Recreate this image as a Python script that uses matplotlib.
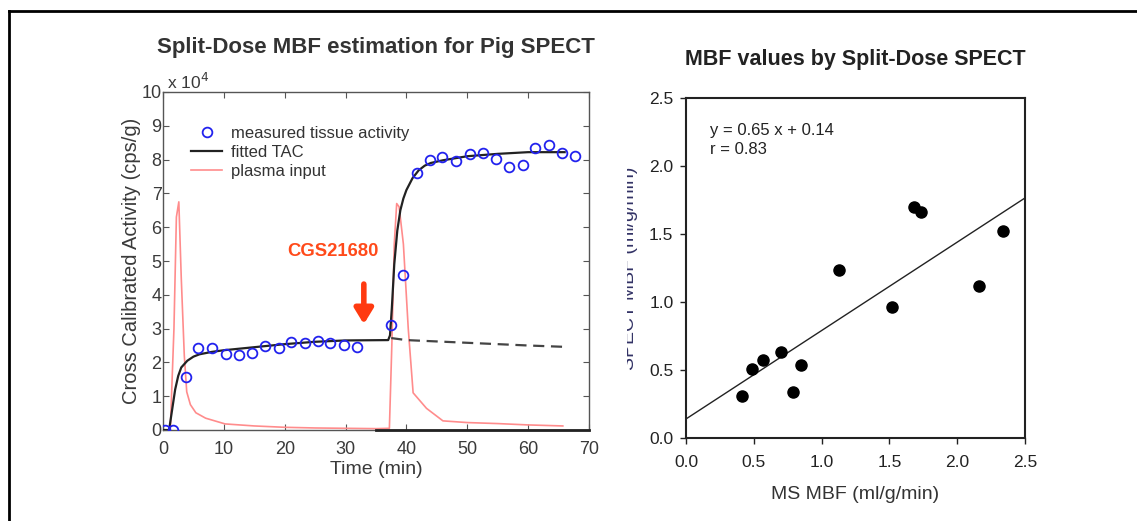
import matplotlib
matplotlib.use("Agg")
import matplotlib.pyplot as plt
from matplotlib.lines import Line2D
from matplotlib.transforms import Bbox

plt.rcParams['font.family'] = ['Liberation Sans', 'DejaVu Sans']

# ---------------- Left panel data (activity in units of 1e4 cps/g) ----------------
meas_t = [0.3, 1.6, 3.8, 5.8, 8.1, 10.3, 12.5, 14.6, 16.8, 19.0, 21.1, 23.3, 25.5,
          27.5, 29.8, 31.9, 37.5, 39.5, 41.8, 43.8, 45.9, 48.1, 50.4, 52.5, 54.7,
          56.9, 59.1, 61.1, 63.5, 65.5, 67.7]
meas_v = [0.0, 0.0, 1.58, 2.42, 2.42, 2.25, 2.23, 2.27, 2.50, 2.44, 2.59, 2.58, 2.64,
          2.56, 2.51, 2.47, 3.10, 4.60, 7.59, 8.00, 8.09, 7.97, 8.16, 8.19, 8.02,
          7.79, 7.84, 8.33, 8.43, 8.19, 8.10]

fit_t = [0, 1.0, 1.5, 2.0, 2.5, 3.0, 4.0, 5.0, 6.0, 8.0, 10, 15, 20, 25, 30, 37.0,
         37.3, 37.6, 38.0, 38.5, 39.0, 39.5, 40.0, 41.0, 42.0, 43.0, 44.0, 46.0,
         48.0, 50.0, 55.0, 60.0, 66.0]
fit_v = [0, 0.0, 0.6, 1.2, 1.6, 1.85, 2.05, 2.17, 2.24, 2.31, 2.36, 2.45, 2.54, 2.61,
         2.65, 2.66, 2.80, 3.60, 4.90, 5.90, 6.50, 6.85, 7.10, 7.45, 7.68, 7.82, 7.90,
         7.98, 8.04, 8.10, 8.17, 8.22, 8.22]

dash_t = [37.5, 40, 45, 50, 55, 60, 66]
dash_v = [2.72, 2.66, 2.62, 2.58, 2.54, 2.50, 2.46]

base_t = [35, 70]
base_v = [0, 0]

plasma_t = [0, 1.2, 1.8, 2.2, 2.6, 3.0, 3.5, 3.9, 4.5, 5.4, 7.0, 10.2, 15, 20, 25, 30,
            35, 37.2, 37.6, 38.0, 38.4, 38.8, 39.5, 40.3, 41.1, 43.3, 46.0, 50, 55, 60, 65.7]
plasma_v = [0, 0.0, 3.0, 6.3, 6.75, 4.5, 2.2, 1.13, 0.75, 0.51, 0.35, 0.18, 0.12, 0.08,
            0.06, 0.05, 0.04, 0.05, 2.5, 5.5, 6.7, 6.6, 5.5, 3.0, 1.1, 0.64, 0.27, 0.22,
            0.19, 0.15, 0.12]

arrow_t = 33.0
arrow_from = 4.4
arrow_to = 3.05

# ---------------- Right panel data ----------------
ms_mbf = [0.41, 0.49, 0.57, 0.70, 0.85, 0.79, 1.13, 1.52, 2.16, 2.34, 1.68, 1.73]
spect_mbf = [0.31, 0.51, 0.57, 0.63, 0.54, 0.34, 1.235, 0.96, 1.12, 1.52, 1.70, 1.66]
slope = 0.65
intercept = 0.14
r_value = 0.83

fig = plt.figure(figsize=(11.37, 5.21), dpi=100)

# outer frame (top and left edges)
fig.add_artist(Line2D([9/1137, 1.0], [1 - 11/521, 1 - 11/521], color='black', lw=2,
                      transform=fig.transFigure))
fig.add_artist(Line2D([9/1137, 9/1137], [0.0, 1 - 11/521], color='black', lw=2,
                      transform=fig.transFigure))

# ---------------- Left panel ----------------
ax1 = fig.add_axes([163/1137, 1 - 430/521, 426/1137, 338/521])
gray = '#3a3a3a'
ax1.plot(plasma_t, plasma_v, color='#ff8c8c', lw=1.2, label='plasma input', zorder=2)
ax1.plot(fit_t, fit_v, color='#222222', lw=1.6, label='fitted TAC', zorder=3)
ax1.plot(dash_t, dash_v, color='#444444', lw=1.6, ls=(0, (5, 3)), zorder=3)
ax1.plot(base_t, base_v, color='#222222', lw=2.0, zorder=3, clip_on=False)
ax1.plot(meas_t, meas_v, ls='none', marker='o', ms=7, mfc='none', mec='#2222ee',
         mew=1.3, label='measured tissue activity', zorder=4)
ax1.set_xlim(0, 70)
ax1.set_ylim(0, 10)
ax1.set_xticks(range(0, 71, 10))
ax1.set_yticks(range(0, 11))
ax1.tick_params(direction='in', top=True, right=True, length=4, width=0.8,
                labelsize=13, colors='#555555', labelcolor=gray)
ax1.tick_params(axis='x', pad=8)
ax1.tick_params(axis='y', pad=1)
for s in ax1.spines.values():
    s.set_color('#555555')
    s.set_linewidth(1.0)
ax1.set_xlabel('Time (min)', fontsize=14, color=gray, labelpad=2)
ax1.set_ylabel('Cross Calibrated Activity (cps/g)', fontsize=14.5, color=gray, labelpad=0)
ax1.set_title('Split-Dose MBF estimation for Pig SPECT', fontsize=16,
              fontweight='bold', color='#333333', pad=28)
ax1.text(0.01, 1.0, r'x 10$^4$', transform=ax1.transAxes, fontsize=12.5, color=gray,
         va='bottom', ha='left')
h, l = ax1.get_legend_handles_labels()
order = [2, 1, 0]
ax1.legend([h[i] for i in order], [l[i] for i in order], loc='upper left',
           bbox_to_anchor=(0.03, 0.945), frameon=False, fontsize=12, handlelength=1.9,
           handletextpad=0.5, labelspacing=0.25, labelcolor='#333333')
ax1.annotate('', xy=(arrow_t, arrow_to), xytext=(arrow_t, arrow_from),
             arrowprops=dict(arrowstyle='-|>,head_width=0.55,head_length=0.9',
                             color='#ff3a10', lw=4))
ax1.text(27.9, 5.27, 'CGS21680', color='#ff4a1a', fontsize=13.3, fontweight='bold',
         ha='center', va='center')

# ---------------- Right panel ----------------
ax2 = fig.add_axes([686/1137, 1 - 438/521, 339/1137, 340/521])
ax2.plot(ms_mbf, spect_mbf, ls='none', marker='o', ms=8, color='black', zorder=3)
ax2.plot([0, 2.5], [intercept, intercept + slope * 2.5], color='#222222', lw=1.0)
ax2.set_xlim(0, 2.5)
ax2.set_ylim(0, 2.5)
ticks = [0, 0.5, 1.0, 1.5, 2.0, 2.5]
ax2.set_xticks(ticks)
ax2.set_yticks(ticks)
ax2.set_xticklabels([f'{t:.1f}' for t in ticks])
ax2.set_yticklabels([f'{t:.1f}' for t in ticks])
ax2.tick_params(direction='out', length=4, width=1.0, labelsize=12.5, colors='#222222')
ax2.tick_params(axis='x', pad=8)
ax2.tick_params(axis='y', pad=5)
for s in ax2.spines.values():
    s.set_color('#222222')
    s.set_linewidth(1.5)
ax2.set_xlabel('MS MBF (ml/g/min)', fontsize=14, color='#333333', labelpad=12)
ax2.set_title('MBF values by Split-Dose SPECT', fontsize=15.5, fontweight='bold',
              color='#222222', pad=24)
ax2.text(0.07, 0.925, f'y = {slope:.2f} x + {intercept:.2f}\nr = {r_value:.2f}',
         transform=ax2.transAxes, fontsize=12, color='#222222', va='top', ha='left',
         linespacing=1.25)
yl = ax2.text(630 / 1137, 1 - 268 / 521, 'SPECT MBF (ml/g/min)', transform=fig.transFigure,
              rotation=90, fontsize=14, color='#333366', ha='center', va='center')
clipbox = Bbox.from_extents(627, 0, 700, 521)
yl.set_clip_box(clipbox)
yl.set_clip_on(True)

fig.savefig('out.png', dpi=100)
